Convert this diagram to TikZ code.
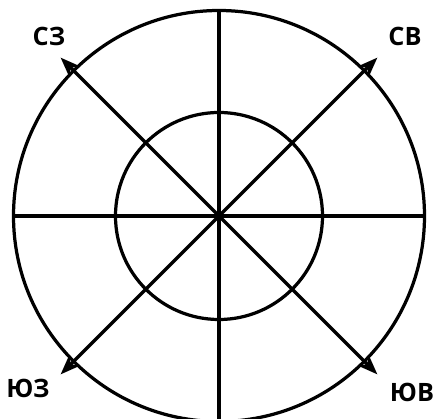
\documentclass[tikz,border=0pt]{standalone}
\usepackage{fontspec}
\setmainfont{Open Sans}
\usetikzlibrary{arrows.meta,positioning}

\begin{document}
\begin{tikzpicture}[
    x=0.025cm, y=0.025cm,
    rim/.style={line width=2.3pt},
    axis/.style={line width=2.3pt},
    diag/.style={line width=2.3pt, {Stealth[length=0.48cm,width=0.36cm,inset=0.12cm]}-{Stealth[length=0.48cm,width=0.36cm,inset=0.12cm]}},
    dirlabel/.style={font=\fontsize{18}{20}\selectfont\bfseries, inner sep=0pt}
]
\useasboundingbox (-219,-203) rectangle (216,216);

% Circles
\node[circle, fill=black, inner sep=0pt, minimum size=0.22cm] (centre) at (0,0) {};
\draw[rim] (centre.center) circle (205.5);
\draw[rim] (centre.center) circle (103.5);

% Points on the rim
\coordinate (north) at (90:205.5);
\coordinate (south) at (270:205.5);
\coordinate (west) at (180:205.5);
\coordinate (east) at (0:205.5);
\coordinate (nw) at (135:224);
\coordinate (ne) at (45:224);
\coordinate (sw) at (225:224);
\coordinate (se) at (315:224);

% Axes
\draw[axis] (north) -- (south);
\draw[axis] (west) -- (east);
\draw[diag] (nw) -- (se);
\draw[diag] (ne) -- (sw);

% Labels
\node[dirlabel] (lnw) at (-170,180) {СЗ};
\node[dirlabel] (lne) at (186,180) {СВ};
\node[dirlabel] (lsw) at (-191,-172) {ЮЗ};
\node[dirlabel] (lse) at (193,-176) {ЮВ};

\end{tikzpicture}
\end{document}
